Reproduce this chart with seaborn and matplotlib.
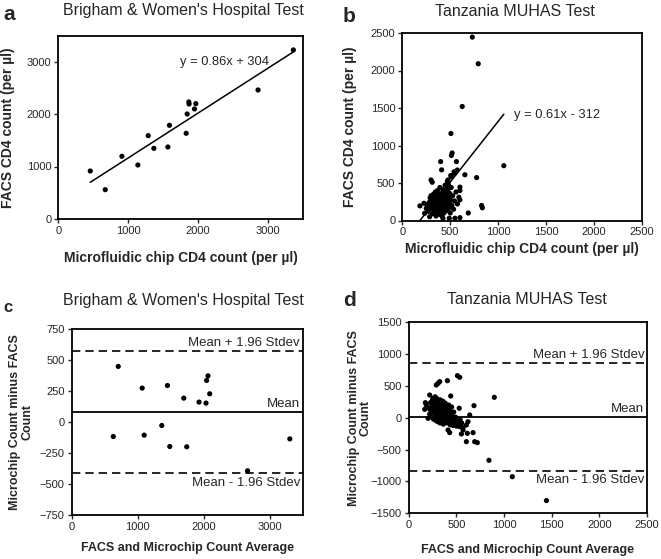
import numpy as np
import pandas as pd
import seaborn as sns
import matplotlib
matplotlib.use('Agg')
import matplotlib.pyplot as plt

# Panel a: Brigham & Women's, chip vs FACS
a_chip = [457, 671, 910, 1138, 1286, 1367, 1567, 1590, 1829, 1843, 1867, 1871, 1948, 1967, 2857, 3362]
a_facs = [914, 556, 1195, 1029, 1591, 1348, 1374, 1789, 1636, 2006, 2236, 2198, 2102, 2204, 2466, 3233]
a_slope, a_icpt = 0.86, 304

# Panel b: Tanzania MUHAS, chip vs FACS
b_chip = [730, 792, 625, 507, 520, 512, 400, 565, 410, 653, 775, 1059, 300, 312, 601, 601, 601,
          827, 835, 688, 184, 490, 549, 601, 424, 285, 233, 250, 226,
          476, 511, 545, 573, 505, 540, 470, 480,
          260, 270, 280, 290, 295, 300, 305, 310, 315, 320,
          325, 330, 335, 338, 340, 345, 348, 350, 352, 355,
          358, 360, 362, 365, 368, 370, 372, 375, 378, 380,
          382, 385, 388, 390, 392, 395, 398, 400, 402, 405,
          408, 410, 412, 415, 418, 420, 422, 425, 428, 430,
          433, 436, 440, 443, 446, 450, 453, 456, 460, 463,
          466, 470, 474, 478, 482, 486, 490, 495, 500, 505,
          510, 518, 525, 535, 545, 560, 575, 590]
b_facs = [2445, 2090, 1520, 1160, 900, 868, 785, 785, 675, 610, 572, 731, 540, 510, 445, 400, 275,
          200, 170, 100, 195, 30, 30, 38, 28, 50, 96, 162, 230,
          540, 584, 629, 673, 600, 650, 520, 480,
          210, 120, 240, 300, 180, 330, 260, 150, 90, 220,
          350, 280, 200, 130, 310, 380, 240, 170, 60, 290,
          210, 340, 120, 260, 400, 190, 300, 230, 150, 350,
          270, 80, 210, 320, 440, 250, 170, 300, 120, 230,
          360, 280, 190, 60, 330, 250, 150, 410, 300, 220,
          100, 350, 270, 180, 470, 310, 230, 130, 380, 280,
          200, 330, 250, 420, 160, 300, 230, 360, 100, 270,
          440, 200, 330, 150, 260, 380, 220, 310]
b_slope, b_icpt = 1.62, -298

# Panel c: Bland-Altman, Brigham & Women's
c_avg = [705, 1068, 1451, 1698, 1929, 2035, 2065, 2045, 2091, 630, 1098, 1365, 1486, 1743, 2665, 3305]
c_diff = [450, 275, 296, 194, 162, 154, 374, 337, 229, -116, -105, -27, -197, -199, -393, -135]
c_mean, c_lim = 80, 492

# Panel d: Bland-Altman, Tanzania MUHAS
d_avg = [898, 842, 1087, 1445, 511, 535, 406, 325, 308, 290, 441, 220, 685, 640, 413, 430, 535, 570,
         622, 605, 615, 553, 675, 605, 692, 720, 175, 185, 168, 203, 255, 273,
         210, 220, 230, 235, 240, 245, 250, 255, 260, 265,
         270, 275, 278, 282, 285, 288, 292, 295, 298, 300,
         303, 306, 310, 313, 316, 320, 322, 325, 328, 330,
         333, 336, 340, 343, 346, 350, 352, 355, 358, 360,
         363, 366, 370, 373, 376, 380, 383, 386, 390, 393,
         396, 400, 404, 408, 412, 416, 420, 424, 428, 432,
         436, 440, 445, 450, 455, 460, 466, 472, 478, 485,
         492, 500, 510, 520, 530, 540, 555, 570]
d_diff = [322, -668, -925, -1300, 662, 636, 583, 568, 541, 515, 342, 358, 191, 44, -192, -233, -139, -192,
          -61, -113, -244, -254, -233, -375, -375, -390, 238, 201, 133, -8, 306, 290,
          150, 60, 240, 100, 10, 190, 280, 130, -20, 220,
          70, 160, 330, -40, 250, 110, 190, 30, 300, 140,
          -60, 220, 80, 170, 260, 0, 120, 200, -80, 60,
          280, 150, 20, 230, 100, -30, 180, 50, 260, 120,
          -100, 200, 30, 150, 80, -50, 230, 110, 0, 170,
          60, -80, 140, 20, -30, 100, 200, -60, 40, 130,
          -110, 70, -20, 170, -70, 20, -120, 90, -40, -90,
          10, -130, -60, -100, 150, -30, -80, -150]
d_mean, d_lim = 17, 848

sns.set_style('ticks')
plt.rcParams['font.family'] = ['Liberation Sans', 'DejaVu Sans']
plt.rcParams['axes.linewidth'] = 1.3

W, H = 661, 559
fig = plt.figure(figsize=(W / 100, H / 100), dpi=100)

def box(l, r, t, b):
    return [l / W, 1 - b / H, (r - l) / W, (b - t) / H]

ax_a = fig.add_axes(box(58.3, 303, 36, 218.7))
ax_b = fig.add_axes(box(402.3, 642, 33, 220.5))
ax_c = fig.add_axes(box(71.7, 302.7, 329.3, 515))
ax_d = fig.add_axes(box(408.7, 647, 322.3, 513.3))

def style(ax, xlim, ylim, xticks, yticks):
    ax.set_xlim(*xlim)
    ax.set_ylim(*ylim)
    ax.set_xticks(xticks)
    ax.set_yticks(yticks)
    ax.tick_params(direction='out', length=3, width=1, labelsize=8, pad=2,
                   top=False, right=False)
    for s in ax.spines.values():
        s.set_visible(True)
        s.set_color('black')

def dots(ax, x, y):
    sns.scatterplot(x=x, y=y, ax=ax, color='black', s=14, edgecolor='none', linewidth=0)

# a
dots(ax_a, a_chip, a_facs)
xs = np.array([min(a_chip), max(a_chip)])
ax_a.plot(xs, a_slope * xs + a_icpt, color='black', lw=1.1)
ax_a.text(1739, 3002, 'y = 0.86x + 304', fontsize=9.3, va='center', ha='left')
style(ax_a, (0, 3500), (0, 3500), [0, 1000, 2000, 3000], [0, 1000, 2000, 3000])
ax_a.set_xlabel('Microfluidic chip CD4 count (per µl)', fontsize=10, fontweight='bold')
ax_a.set_ylabel('FACS CD4 count (per µl)', fontsize=10, fontweight='bold')
ax_a.xaxis.set_label_coords(0.5, -0.177)
ax_a.yaxis.set_label_coords(-0.177, 0.5)

# b
dots(ax_b, b_chip, b_facs)
xs = np.array([min(b_chip), max(b_chip)])
ax_b.plot(xs, b_slope * xs + b_icpt, color='black', lw=1.1)
ax_b.text(1163, 1407, 'y = 0.61x - 312', fontsize=9.3, va='center', ha='left')
style(ax_b, (0, 2500), (0, 2500), range(0, 2501, 500), range(0, 2501, 500))
ax_b.set_xlabel('Microfluidic chip CD4 count (per µl)', fontsize=10, fontweight='bold')
ax_b.set_ylabel('FACS CD4 count (per µl)', fontsize=10, fontweight='bold')
ax_b.xaxis.set_label_coords(0.5, -0.115)
ax_b.yaxis.set_label_coords(-0.189, 0.5)

def limits(ax, mean, lim):
    ax.axhline(mean, color='black', lw=1.3)
    ax.axhline(mean + lim, color='black', lw=1.2, ls=(0, (5, 3)))
    ax.axhline(mean - lim, color='black', lw=1.2, ls=(0, (5, 3)))
    kw = dict(xycoords=('axes fraction', 'data'), textcoords='offset points',
              ha='right', fontsize=9.5)
    ax.annotate('Mean + 1.96 Stdev', xy=(1, mean + lim), xytext=(-2, 1.5), va='bottom', **kw)
    ax.annotate('Mean', xy=(1, mean), xytext=(-2, 1.5), va='bottom', **kw)
    ax.annotate('Mean - 1.96 Stdev', xy=(1, mean - lim), xytext=(-2, -2.5), va='top', **kw)

# c
dots(ax_c, c_avg, c_diff)
limits(ax_c, c_mean, c_lim)
style(ax_c, (0, 3500), (-750, 750), [0, 1000, 2000, 3000], range(-750, 751, 250))
ax_c.set_xlabel('FACS and Microchip Count Average', fontsize=9, fontweight='bold')
ax_c.set_ylabel('Microchip Count minus FACS\nCount', fontsize=9, fontweight='bold', linespacing=1.0)
ax_c.xaxis.set_label_coords(0.5, -0.145)
ax_c.yaxis.set_label_coords(-0.167, 0.5)

# d
dots(ax_d, d_avg, d_diff)
limits(ax_d, d_mean, d_lim)
style(ax_d, (0, 2500), (-1500, 1500), range(0, 2501, 500), range(-1500, 1501, 500))
ax_d.set_xlabel('FACS and Microchip Count Average', fontsize=9, fontweight='bold')
ax_d.set_ylabel('Microchip Count minus FACS\nCount', fontsize=9, fontweight='bold', linespacing=1.0)
ax_d.xaxis.set_label_coords(0.5, -0.16)
ax_d.yaxis.set_label_coords(-0.156, 0.5)

# titles and panel letters
def ftext(x, y, s, **kw):
    fig.text(x / W, 1 - y / H, s, **kw)

ftext(183, 10, "Brigham & Women's Hospital Test", fontsize=11.5, ha='center', va='center')
ftext(515, 12, 'Tanzania MUHAS Test', fontsize=11.5, ha='center', va='center')
ftext(183, 301, "Brigham & Women's Hospital Test", fontsize=11.5, ha='center', va='center')
ftext(527, 300, 'Tanzania MUHAS Test', fontsize=11.5, ha='center', va='center')
ftext(3, 15, 'a', fontsize=15, fontweight='bold', ha='left', va='center')
ftext(343, 17, 'b', fontsize=15, fontweight='bold', ha='left', va='center')
ftext(3, 308, 'c', fontsize=12, fontweight='bold', ha='left', va='center')
ftext(343, 300, 'd', fontsize=15, fontweight='bold', ha='left', va='center')

fig.savefig('out.png', dpi=100)
